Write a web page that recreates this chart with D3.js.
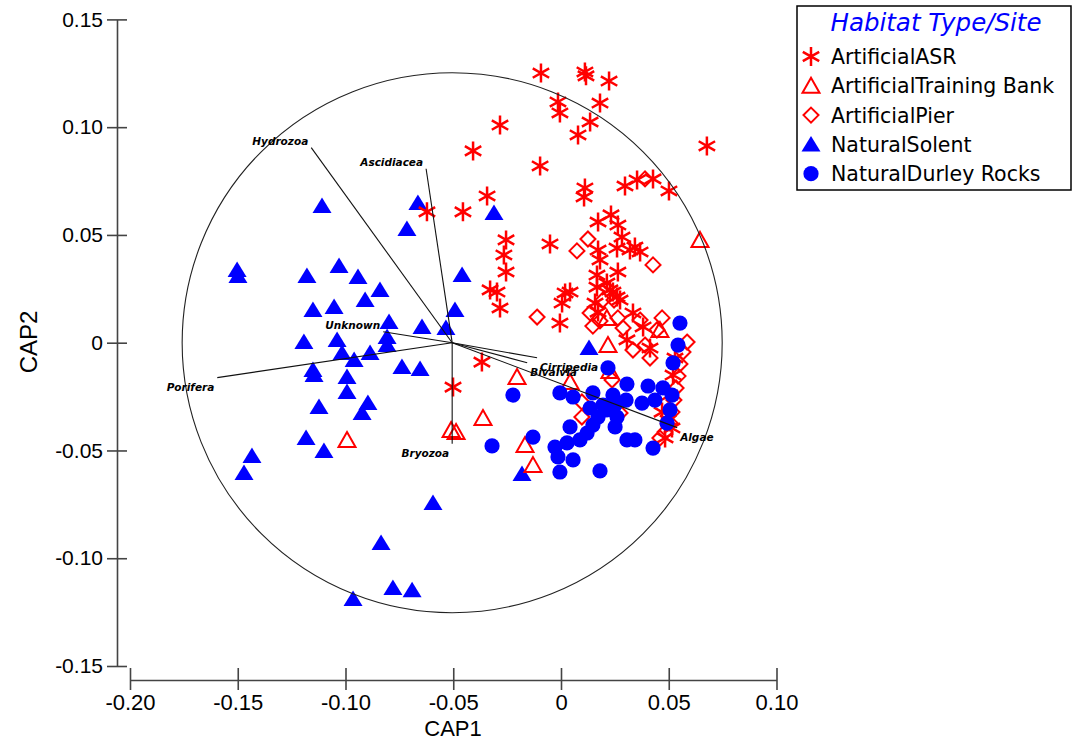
<!DOCTYPE html>
<html>
<head>
<meta charset="utf-8">
<script src="https://cdn.jsdelivr.net/npm/d3@7"></script>
<style>
  body { margin: 0; background: #fff; }
  svg { display: block; }
</style>
</head>
<body>
<svg id="chart" width="1074" height="744"></svg>
<script>
// ---- data ----
var groupNames = ["ArtificialASR", "ArtificialTraining Bank", "ArtificialPier", "NaturalSolent", "NaturalDurley Rocks"];

var asr = [
  [-0.0093,0.1251],[0.0111,0.1256],[0.0116,0.1238],[0.0223,0.1214],[-0.0014,0.1117],[-0.0005,0.1066],
  [0.0181,0.1112],[0.0135,0.1024],[0.0079,0.0964],[-0.0283,0.1010],[-0.0408,0.0890],[-0.0097,0.0820],
  [0.0677,0.0913],[0.0111,0.0718],[0.0107,0.0676],[0.0297,0.0727],[0.0353,0.0755],[0.0427,0.0760],
  [0.0501,0.0704],[-0.0622,0.0607],[-0.0455,0.0607],[-0.0343,0.0681],[-0.0051,0.0458],[0.0172,0.0560],
  [0.0232,0.0593],[0.0264,0.0546],[0.0283,0.0490],[0.0343,0.0444],[0.0320,0.0430],[0.0367,0.0421],
  [0.0260,0.0439],[0.0172,0.0430],[0.0181,0.0384],[-0.0255,0.0477],[-0.0265,0.0407],[-0.0255,0.0328],
  [-0.0329,0.0245],[-0.0297,0.0235],[0.0042,0.0235],[0.0167,0.0314],[0.0264,0.0328],[0.0213,0.0277],
  [0.0241,0.0235],[-0.0283,0.0161],[0.0019,0.0231],[0.0005,0.0184],[-0.0005,0.0091],[0.0167,0.0258],
  [0.0158,0.0184],[0.0172,0.0142],[0.0227,0.0245],[0.0260,0.0212],[0.0334,0.0138],[0.0381,0.0073],
  [0.0306,0.0013],[0.0413,-0.0025],[0.0529,-0.0071],[0.0520,-0.0150],[0.0506,-0.0243],[0.0497,-0.0359],
  [0.0515,-0.0396],[0.0483,-0.0442],[-0.0367,-0.0090],[-0.0501,-0.0206],[0.0274,0.0198],[0.0469,-0.0322]
];

var trainingBank = [
  [0.0645,0.0477],[0.0218,-0.0011],[-0.0204,-0.0159],[-0.0362,-0.0349],[-0.0167,-0.0475],[-0.0130,-0.0568],
  [0.0459,0.0059],[0.0227,-0.0131],[0.0042,-0.0182],[-0.0993,-0.0451],[-0.0510,-0.0405],[-0.0487,-0.0414],
  [0.0213,0.0115]
];

var pier = [
  [0.0125,0.0481],[0.0074,0.0426],[0.0427,0.0361],[0.0390,0.0760],[-0.0111,0.0119],[0.0135,0.0138],
  [0.0181,0.0101],[0.0264,0.0115],[0.0288,0.0068],[0.0334,-0.0034],[0.0413,-0.0071],[0.0445,0.0059],
  [0.0585,0.0003],[0.0566,-0.0043],[0.0552,-0.0099],[0.0543,-0.0155],[0.0534,-0.0210],[0.0524,-0.0266],
  [0.0515,-0.0322],[0.0506,-0.0373],[0.0483,-0.0414],[0.0459,-0.0442],[0.0097,-0.0345],[0.0274,-0.0326],
  [0.0237,-0.0173],[0.0097,-0.0275],[0.0390,-0.0011],[0.0148,0.0077],[0.0367,0.0105],[0.0469,0.0115],
  [0.0195,0.0198],[0.0246,0.0198]
];

var solent = [
  [-0.1109,0.0634],[-0.0664,0.0648],[-0.0715,0.0528],[-0.1503,0.0337],[-0.1499,0.0309],[-0.1179,0.0309],
  [-0.1030,0.0356],[-0.0942,0.0305],[-0.0840,0.0245],[-0.0909,0.0198],[-0.1151,0.0152],[-0.1053,0.0166],
  [-0.0798,0.0096],[-0.0645,0.0073],[-0.0534,0.0068],[-0.0492,0.0152],[-0.0459,0.0314],[-0.0311,0.0602],
  [-0.0807,0.0026],[-0.0807,-0.0011],[-0.1193,0.0003],[-0.1039,0.0013],[-0.1016,-0.0048],[-0.0960,-0.0080],
  [-0.0886,-0.0048],[-0.0738,-0.0113],[-0.0654,-0.0122],[-0.1151,-0.0127],[-0.1146,-0.0150],[-0.0993,-0.0159],
  [-0.0993,-0.0229],[-0.1123,-0.0298],[-0.0896,-0.0280],[-0.0923,-0.0326],[-0.1183,-0.0442],[-0.1100,-0.0503],
  [-0.1434,-0.0526],[-0.1471,-0.0605],[-0.0594,-0.0744],[-0.0835,-0.0929],[-0.0780,-0.1138],[-0.0691,-0.1148],
  [-0.0965,-0.1189],[0.0130,-0.0025],[-0.0181,-0.0609]
];

var durley = [
  [0.0552,0.0091],[0.0543,-0.0011],[0.0520,-0.0094],[0.0218,-0.0117],[0.0306,-0.0192],[0.0404,-0.0201],
  [0.0473,-0.0210],[0.0515,-0.0243],[0.0376,-0.0280],[0.0506,-0.0312],[0.0492,-0.0373],[0.0241,-0.0243],
  [0.0251,-0.0289],[0.0260,-0.0345],[0.0251,-0.0391],[0.0148,-0.0233],[-0.0005,-0.0233],[0.0056,-0.0252],
  [0.0172,-0.0345],[0.0148,-0.0382],[0.0121,-0.0419],[0.0088,-0.0451],[0.0042,-0.0391],[0.0028,-0.0465],
  [-0.0028,-0.0484],[-0.0014,-0.0530],[0.0056,-0.0544],[-0.0005,-0.0600],[0.0181,-0.0595],[-0.0130,-0.0438],
  [-0.0320,-0.0479],[-0.0223,-0.0243],[0.0306,-0.0451],[0.0343,-0.0451],[0.0427,-0.0489],[0.0195,-0.0289],
  [0.0213,-0.0312],[0.0135,-0.0303],[0.0302,-0.0266],[0.0436,-0.0266]
];

// vector overlay (Pearson correlation vectors)
var vecNames = ["Hydrozoa", "Ascidiacea", "Unknown", "Porifera", "Bryozoa", "Cirripedia", "Bivalvia", "Algae"];
var vecX = [-0.0654, -0.0121, -0.0320, -0.1090, 0.0000, 0.0394, 0.0348, 0.1044];
var vecY = [ 0.0905,  0.0807,  0.0051, -0.0162, -0.0469, -0.0070, -0.0093, -0.0394];
var vecOrigin = [-0.0505, 0.0];
var vecRadius = 0.1253;

var xTicks = [-0.20, -0.15, -0.10, -0.05, 0, 0.05, 0.10];
var xTickLabels = ["-0.20", "-0.15", "-0.10", "-0.05", "0", "0.05", "0.10"];
var yTicks = [0.15, 0.10, 0.05, 0, -0.05, -0.10, -0.15];
var yTickLabels = ["0.15", "0.10", "0.05", "0", "-0.05", "-0.10", "-0.15"];

// ---- drawing ----
var RED = "#ff0000", BLUE = "#0000ff";
var svg = d3.select("#chart");
svg.append("rect").attr("width", 1074).attr("height", 744).attr("fill", "#fff");

var x = d3.scaleLinear().domain([-0.20, 0.10]).range([130, 776.5]);
var y = d3.scaleLinear().domain([-0.15, 0.15]).range([666, 19.4]);

// marker shapes
var shapes = {
  asr:   { d: "M0,-9.5L0,9.5M-8.2,-4.7L8.2,4.7M-8.2,4.7L8.2,-4.7", fill: "none", stroke: RED, sw: 2.5 },
  tb:    { d: "M0,-8L8.5,7L-8.5,7Z", fill: "none", stroke: RED, sw: 2 },
  pier:  { d: "M0,-7.5L7.5,0L0,7.5L-7.5,0Z", fill: "none", stroke: RED, sw: 2 },
  solent:{ d: "M0,-8.5L9.5,7L-9.5,7Z", fill: BLUE, stroke: "none", sw: 0 },
  durley:{ d: d3.symbol(d3.symbolCircle, Math.PI * 7.6 * 7.6)(), fill: BLUE, stroke: "none", sw: 0 }
};

function drawGroup(data, s) {
  svg.append("g").selectAll("path").data(data).enter()
    .append("path")
      .attr("d", s.d)
      .attr("transform", function(d) { return "translate(" + x(d[0]) + "," + y(d[1]) + ")"; })
      .attr("fill", s.fill)
      .attr("stroke", s.stroke)
      .attr("stroke-width", s.sw);
}

drawGroup(solent, shapes.solent);
drawGroup(asr, shapes.asr);
drawGroup(trainingBank, shapes.tb);
drawGroup(pier, shapes.pier);
drawGroup(durley, shapes.durley);

// circle + vectors
var ox = x(vecOrigin[0]), oy = y(vecOrigin[1]);
svg.append("circle")
  .attr("cx", ox).attr("cy", oy)
  .attr("r", x(vecRadius) - x(0))
  .attr("fill", "none").attr("stroke", "#222").attr("stroke-width", 1.1);

var vg = svg.append("g");
vecNames.forEach(function(name, i) {
  var ex = x(vecOrigin[0] + vecX[i]), ey = y(vecOrigin[1] + vecY[i]);
  vg.append("line")
    .attr("x1", ox).attr("y1", oy).attr("x2", ex).attr("y2", ey)
    .attr("stroke", "#111").attr("stroke-width", 1.1);
  var left = vecX[i] <= 0;
  vg.append("text")
    .attr("x", left ? ex - 3 : ex + 3)
    .attr("y", vecY[i] > 0 ? ey - 3 : ey + 13)
    .attr("text-anchor", left ? "end" : "start")
    .style("font-family", "'DejaVu Sans', sans-serif")
    .style("font-size", "10.5px")
    .style("font-weight", "bold")
    .style("font-style", "italic")
    .text(name);
});

// axes
var yAxis = d3.axisLeft(y)
  .tickValues(yTicks)
  .tickFormat(function(d) { return yTickLabels[yTicks.indexOf(d)]; })
  .tickSize(10).tickSizeOuter(0).tickPadding(4);
var gy = svg.append("g").attr("transform", "translate(117,0)").call(yAxis);
gy.selectAll(".tick line").attr("x1", 10);

var xAxis = d3.axisBottom(x)
  .tickValues(xTicks)
  .tickFormat(function(d) { return xTickLabels[xTicks.indexOf(d)]; })
  .tickSize(10).tickSizeOuter(0).tickPadding(4);
var gx = svg.append("g").attr("transform", "translate(0,680)").call(xAxis);
gx.selectAll(".tick line").attr("y1", -12);

[gx, gy].forEach(function(g) {
  g.selectAll("path, line").attr("stroke", "#444").attr("stroke-width", 1.6);
  g.selectAll("text").attr("fill", "#000")
    .style("font-family", "'Liberation Sans', Arial, sans-serif");
});
gy.selectAll("text").style("font-size", "21px");
gx.selectAll("text").style("font-size", "22px");

svg.append("text")
  .attr("x", 453).attr("y", 736)
  .attr("text-anchor", "middle")
  .style("font-family", "'Liberation Sans', Arial, sans-serif")
  .style("font-size", "22px")
  .text("CAP1");
svg.append("text")
  .attr("transform", "translate(37,342) rotate(-90)")
  .attr("text-anchor", "middle")
  .style("font-family", "'Liberation Sans', Arial, sans-serif")
  .style("font-size", "24px")
  .text("CAP2");

// legend
var lg = svg.append("g");
lg.append("rect")
  .attr("x", 797).attr("y", 6).attr("width", 274).attr("height", 184)
  .attr("fill", "#fff").attr("stroke", "#000").attr("stroke-width", 1.5);
lg.append("text")
  .attr("x", 936).attr("y", 31)
  .attr("text-anchor", "middle")
  .attr("fill", BLUE)
  .style("font-family", "'DejaVu Sans', sans-serif")
  .style("font-size", "24.5px")
  .style("font-style", "italic")
  .text("Habitat Type/Site");

var legendShapes = [shapes.asr, shapes.tb, shapes.pier, shapes.solent, shapes.durley];
groupNames.forEach(function(name, i) {
  var by = 64 + i * 29.3;
  var s = legendShapes[i];
  lg.append("path")
    .attr("d", s.d)
    .attr("transform", "translate(811," + (by - 7.5) + ")")
    .attr("fill", s.fill).attr("stroke", s.stroke).attr("stroke-width", s.sw);
  lg.append("text")
    .attr("x", 831).attr("y", by)
    .style("font-family", "'DejaVu Sans', sans-serif")
    .style("font-size", "20.5px")
    .text(name);
});
</script>
</body>
</html>
